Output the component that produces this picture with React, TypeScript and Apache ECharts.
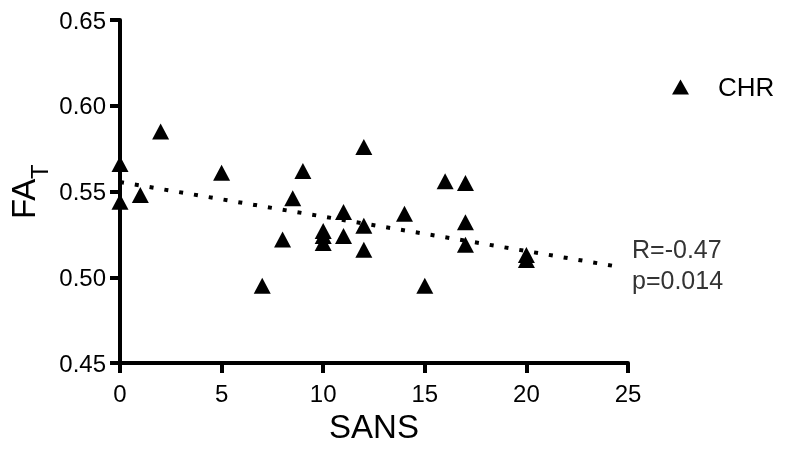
import React, { useEffect, useRef } from "react";
import * as echarts from "echarts";

const sansValues = [0, 0, 1, 2, 5, 7, 8, 8.5, 9, 10, 10, 10, 11, 11, 12, 12, 12, 14, 15, 16, 17, 17, 17, 20, 20];
const faValues = [0.566, 0.544, 0.548, 0.585, 0.561, 0.495, 0.522, 0.546, 0.562, 0.527, 0.524, 0.52, 0.538, 0.524, 0.576, 0.53, 0.516, 0.537, 0.495, 0.556, 0.555, 0.532, 0.519, 0.513, 0.51];
const trendX = [0, 24.6];
const trendY = [0.5555, 0.506];
const xTicks = [0, 5, 10, 15, 20, 25];
const yTicks = [0.45, 0.5, 0.55, 0.6, 0.65];
const seriesName = "CHR";
const statLines = ["R=-0.47", "p=0.014"];

export default function App() {
  const ref = useRef<HTMLDivElement>(null);
  useEffect(() => {
    if (!ref.current) return;
    const chart = echarts.init(ref.current, null, { renderer: "svg" });
    chart.setOption({
      animation: false,
      grid: { left: 120, right: 159, top: 20, bottom: 86 },
      legend: {
        data: [seriesName],
        left: 672,
        top: 74,
        padding: 0,
        itemWidth: 17,
        itemHeight: 15,
        itemGap: 0,
        itemStyle: { opacity: 1, color: "#000" },
        textStyle: { fontSize: 26, color: "#000", padding: [0, 0, 0, 24] },
      },
      xAxis: {
        type: "value",
        min: xTicks[0],
        max: xTicks[xTicks.length - 1],
        interval: 5,
        name: "SANS",
        nameLocation: "middle",
        nameGap: 41,
        nameTextStyle: { fontSize: 33, color: "#000" },
        axisLine: { show: true, lineStyle: { color: "#000", width: 4 } },
        axisTick: { show: true, length: 10, lineStyle: { color: "#000", width: 4 } },
        axisLabel: { fontSize: 24, color: "#000", margin: 18 },
        splitLine: { show: false },
      },
      yAxis: {
        type: "value",
        min: yTicks[0],
        max: yTicks[yTicks.length - 1],
        interval: 0.05,
        axisLine: { show: true, lineStyle: { color: "#000", width: 4 } },
        axisTick: { show: true, length: 10, lineStyle: { color: "#000", width: 4 } },
        axisLabel: {
          fontSize: 24,
          color: "#000",
          margin: 14,
          formatter: (v: number) => v.toFixed(2),
        },
        splitLine: { show: false },
      },
      series: [
        {
          name: "trend",
          type: "line",
          data: trendX.map((x, i) => [x, trendY[i]]),
          symbol: "none",
          silent: true,
          lineStyle: { color: "#000", width: 4, type: [4, 11], cap: "butt" },
        },
        {
          name: seriesName,
          type: "scatter",
          symbol: "triangle",
          symbolSize: [17, 16],
          itemStyle: { color: "#000", opacity: 1 },
          data: sansValues.map((x, i) => [x, faValues[i]]),
        },
      ],
      graphic: [
        {
          type: "text",
          x: 40,
          y: 219,
          rotation: Math.PI / 2,
          style: { text: "FA", fontSize: 33, fill: "#000", textAlign: "left", textVerticalAlign: "bottom" },
        },
        {
          type: "text",
          x: 51,
          y: 179,
          rotation: Math.PI / 2,
          style: { text: "T", fontSize: 24, fill: "#000", textAlign: "left", textVerticalAlign: "bottom" },
        },
        {
          type: "text",
          left: 632,
          top: 233,
          style: { text: statLines.join("\n"), fontSize: 25, lineHeight: 31, fill: "#333" },
        },
      ],
    });
    return () => chart.dispose();
  }, []);
  return <div ref={ref} style={{ position: "fixed", left: 0, top: 0, width: 787, height: 449 }} />;
}
